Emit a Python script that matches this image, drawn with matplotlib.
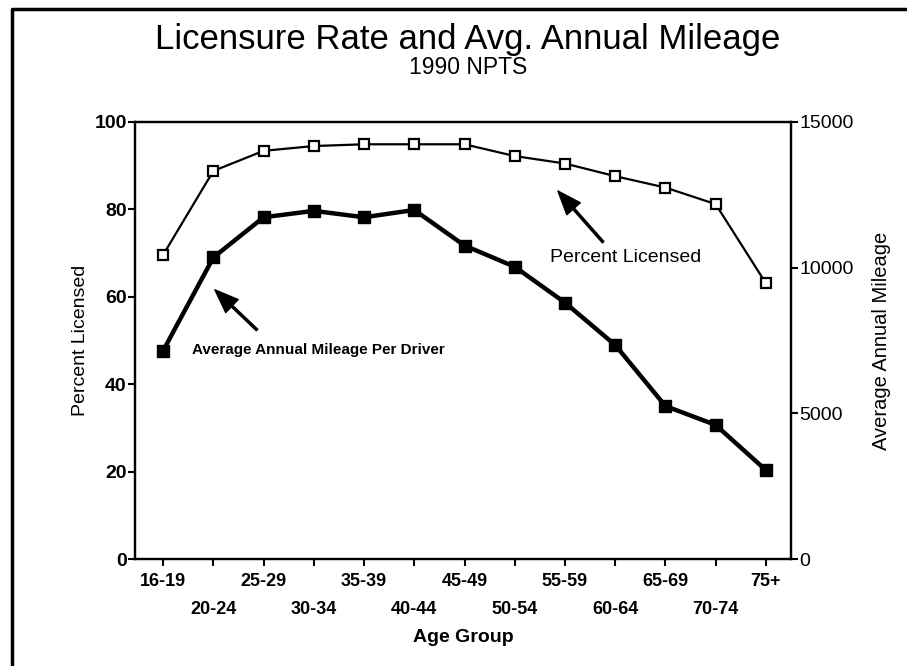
import matplotlib
matplotlib.use("Agg")
import matplotlib.pyplot as plt
from matplotlib.lines import Line2D

plt.rcParams['font.family'] = ['Liberation Sans', 'DejaVu Sans']

age_groups = ["16-19", "20-24", "25-29", "30-34", "35-39", "40-44", "45-49",
              "50-54", "55-59", "60-64", "65-69", "70-74", "75+"]
percent_licensed = [69.6, 88.8, 93.4, 94.5, 94.9, 94.9, 94.9, 92.2, 90.5, 87.6, 85.0, 81.2, 63.1]
annual_mileage = [7150, 10350, 11730, 11950, 11730, 11980, 10760, 10030, 8800, 7345, 5250, 4600, 3050]
left_ticks = [0, 20, 40, 60, 80, 100]
right_ticks = [0, 5000, 10000, 15000]

W, H = 907, 666
fig = plt.figure(figsize=(W / 100, H / 100), dpi=100)
ax = fig.add_axes([135 / W, 1 - 559 / H, (791 - 135) / W, (559 - 122) / H])
ax2 = ax.twinx()

x = list(range(len(age_groups)))
ax.plot(x, percent_licensed, color='black', lw=1.6, marker='s', ms=7.5,
        mfc='white', mec='black', mew=1.6, zorder=3)
ax2.plot(x, annual_mileage, color='black', lw=3.2, marker='s', ms=8.5,
         mfc='black', mec='black', zorder=3)

ax.set_xlim(-0.56, 12.5)
ax.set_ylim(0, 100)
ax2.set_ylim(0, 15000)

ax.set_yticks(left_ticks)
ax.set_yticklabels([str(t) for t in left_ticks], fontsize=14, fontweight='bold')
ax2.set_yticks(right_ticks)
ax2.set_yticklabels([str(t) for t in right_ticks], fontsize=14)

even = x[0::2]
odd = x[1::2]
ax.set_xticks(even)
ax.set_xticklabels([age_groups[i] for i in even], fontsize=13, fontweight='bold')
ax.set_xticks(odd, minor=True)
ax.set_xticklabels([age_groups[i] for i in odd], minor=True, fontsize=13, fontweight='bold')

ax.tick_params(axis='x', which='major', direction='out', length=5, width=1.5, pad=5)
ax.tick_params(axis='x', which='minor', direction='out', length=5, width=1.5, pad=25)
ax.tick_params(axis='y', direction='out', length=5, width=1.5, pad=1)
ax2.tick_params(axis='y', direction='out', length=5, width=1.5, pad=1)

for a in (ax, ax2):
    for s in a.spines.values():
        s.set_linewidth(1.6)

ax.set_xlabel("Age Group", fontsize=14, fontweight='bold', labelpad=8)
ax.set_ylabel("Percent Licensed", fontsize=14, labelpad=4)
ax2.set_ylabel("Average Annual Mileage", fontsize=14.5, labelpad=13)

ax.annotate("", xy=(7.86, 84.2), xytext=(8.76, 72.5),
            arrowprops=dict(facecolor='black', edgecolor='black', width=1.5,
                            headwidth=13, headlength=17, shrink=0))
ax.text(7.70, 69.0, "Percent Licensed", fontsize=14, ha='left', va='center')

ax.annotate("", xy=(1.03, 61.6), xytext=(1.87, 52.4),
            arrowprops=dict(facecolor='black', edgecolor='black', width=1.5,
                            headwidth=13, headlength=17, shrink=0))
ax.text(0.58, 47.8, "Average Annual Mileage Per Driver", fontsize=11,
        fontweight='bold', ha='left', va='center')

fig.text(468 / W, 1 - 39 / H, "Licensure Rate and Avg. Annual Mileage",
         fontsize=25, ha='center', va='center')
fig.text(468 / W, 1 - 68 / H, "1990 NPTS", fontsize=16.5, ha='center', va='center')

fig.add_artist(Line2D([12 / W, 12 / W, 1.0], [0.0, 1 - 9 / H, 1 - 9 / H],
                      transform=fig.transFigure, color='black', lw=2.5))

fig.savefig("out.png", dpi=100)
